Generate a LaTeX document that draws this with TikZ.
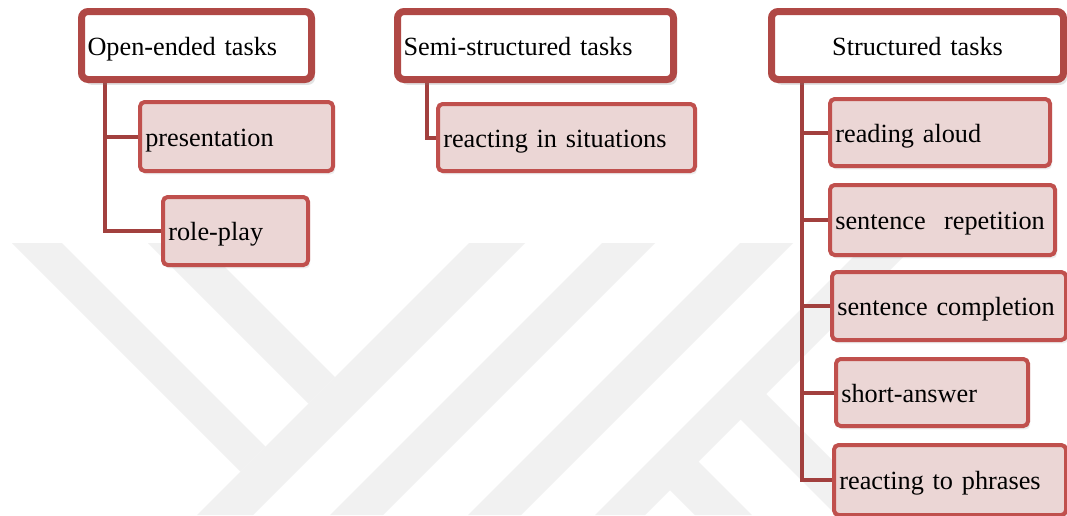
\documentclass[tikz,border=0pt]{standalone}
\usepackage{fontspec}
\setmainfont{Liberation Serif}
\usetikzlibrary{shadows}
\definecolor{pborder}{HTML}{B04845}
\definecolor{cborder}{HTML}{C0504D}
\definecolor{cfill}{HTML}{EBD6D5}
\definecolor{connc}{HTML}{A2403E}
\definecolor{wmgray}{HTML}{F1F1F1}
\pgfdeclarelayer{wmlayer}
\pgfdeclarelayer{connlayer}
\pgfsetlayers{wmlayer,connlayer,main}
\begin{document}
\begin{tikzpicture}[x=0.75pt,y=-0.75pt,
  font=\fontsize{19.7}{23}\selectfont,
  parentbox/.style={draw=pborder, line width=5.25pt, fill=white, rounded corners=5pt,
    inner xsep=4.5pt, inner ysep=0pt, minimum height=51pt,
    text height=14.4pt, text depth=0pt,
    drop shadow={shadow xshift=2.6pt, shadow yshift=-4pt, opacity=0.22}},
  childbox/.style={draw=cborder, line width=3pt, fill=cfill, rounded corners=3.5pt,
    inner xsep=4pt, inner ysep=0pt, align=left,
    text height=14.8pt, text depth=0pt,
    drop shadow={shadow xshift=1.5pt, shadow yshift=-2.6pt, opacity=0.15}},
  conn/.style={draw=connc, line width=3pt},
  wm/.style={fill=wmgray}]

\useasboundingbox (0,0) rectangle (1067,515);
\begin{pgfonlayer}{wmlayer}
\fill[white] (0,0) rectangle (1067,515);
\begin{scope}
\clip (0,0) rectangle (1067,515);
% watermark stripes
\fill[wm] (12,243) -- (62,243) -- (265.5,446.5) -- (240.5,471.5) -- cycle;
\fill[wm] (148,243) -- (201,243) -- (335,377) -- (308.5,403.5) -- cycle;
\fill[wm] (469,243) -- (525,243) -- (253,515) -- (197,515) -- cycle;
\fill[wm] (602,243) -- (655,243) -- (383,515) -- (330,515) -- cycle;
\fill[wm] (740,243) -- (793,243) -- (521,515) -- (468,515) -- cycle;
\fill[wm] (867,243) -- (917,243) -- (645,515) -- (595,515) -- cycle;
\fill[wm] (665,485) -- (693.5,456.5) -- (752,515) -- (695,515) -- cycle;
\fill[wm] (735.5,414.5) -- (761,389) -- (887,515) -- (836,515) -- cycle;
\end{scope}
\end{pgfonlayer}

% parents
\node[parentbox, text width=163.5pt, align=left] (P1) at (196.5,45.5) {Open-ended tasks};
\node[parentbox, text width=198pt, align=left] (P2) at (535.5,45.5) {Semi-structured tasks};
\node[parentbox, text width=210pt, align=center] (P3) at (917.5,45.5) {Structured tasks};

% children
\node[childbox, text width=136.75pt, minimum height=51.75pt] (C1) at (236.5,136.5) {presentation};
\node[childbox, text width=100.75pt, minimum height=51pt] (C2) at (235.5,231) {role-play};
\node[childbox, text width=184.75pt, minimum height=50.25pt] (C3) at (566.5,137.5) {reacting in situations};
\node[childbox, text width=157pt, minimum height=50.25pt] (C4) at (940,132.5) {reading aloud};
\node[childbox, text width=160.75pt, minimum height=52.5pt] (C5) at (942.5,220) {sentence\hspace{0.7em}repetition};
\node[childbox, text width=167.5pt, minimum height=51pt] (C6) at (949,306) {sentence completion};
\node[childbox, text width=136pt, minimum height=50.25pt] (C7) at (932,392.5) {short-answer};
\node[childbox, text width=166pt, minimum height=52.5pt] (C8) at (950,480) {reacting to phrases};

% connectors
\begin{pgfonlayer}{connlayer}
\coordinate (t1) at ([xshift=20.25pt,yshift=3pt]P1.south west);
\coordinate (t2) at ([xshift=24.75pt,yshift=3pt]P2.south west);
\coordinate (t3) at ([xshift=25.5pt,yshift=3pt]P3.south west);
\draw[conn] (t1) |- (C1.west);
\draw[conn] (t1) |- (C2.west);
\draw[conn] (t2) |- (C3.west);
\draw[conn] (t3) |- (C4.west);
\draw[conn] (t3) |- (C5.west);
\draw[conn] (t3) |- (C6.west);
\draw[conn] (t3) |- (C7.west);
\draw[conn] (t3) |- (C8.west);
\end{pgfonlayer}
\end{tikzpicture}
\end{document}
